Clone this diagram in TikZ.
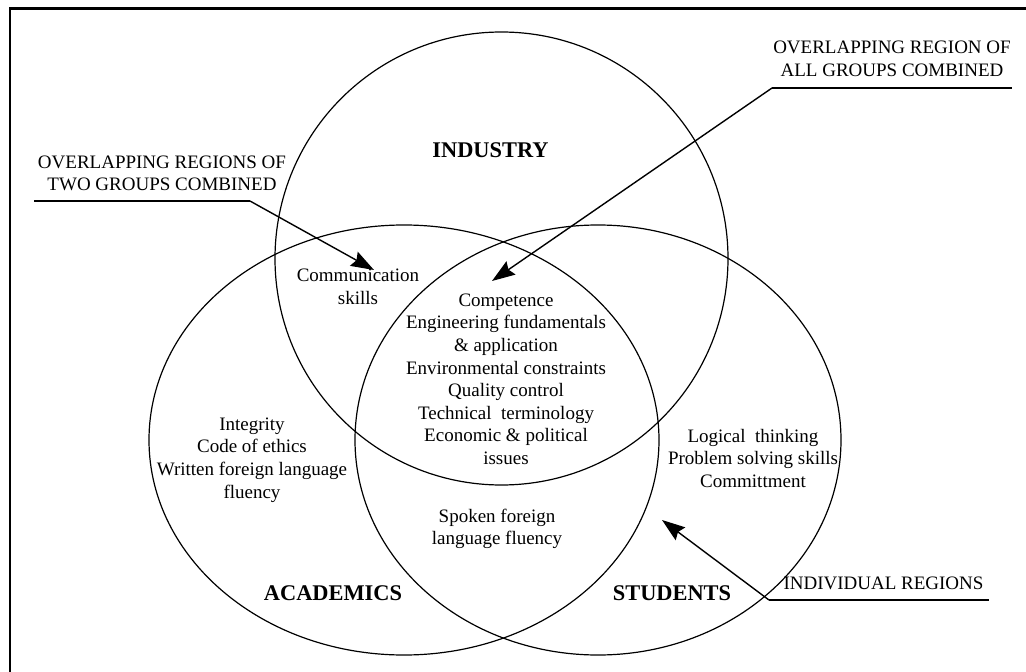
\documentclass[tikz,border=0pt]{standalone}
\usepackage{fontspec}
\setmainfont{Liberation Serif}
\usetikzlibrary{arrows.meta,positioning,shapes.geometric}

\begin{document}
\begin{tikzpicture}[x=1bp,y=-1bp]
\tikzstyle{ring}=[draw, line width=1.2bp, inner sep=0pt, outer sep=0pt]
\tikzstyle{plain}=[align=center, inner sep=0pt, font=\fontsize{19bp}{22.6bp}\selectfont]
\tikzstyle{group}=[inner sep=0pt, font=\fontsize{22.4bp}{26bp}\selectfont\bfseries]
\tikzstyle{pointer}=[line width=1.4bp, -{Stealth[length=23bp,width=16bp,inset=3bp]}]
\tikzstyle{underline}=[line width=2bp]
\useasboundingbox (0,0) rectangle (1026,672);
\clip (0,0) rectangle (1026,672);

% frame
\draw[line width=2.5bp] (1040,8.7) -- (10,8.7) -- (10,690);

% the three groups
\draw node at (501.5,258.5) [ring, circle, minimum size=453bp] (Ind) {};
\draw node at (404,440) [ring, ellipse, minimum width=510bp, minimum height=430bp] (Acad) {};
\draw node at (598,440) [ring, ellipse, minimum width=486bp, minimum height=430bp] (Stud) {};

\draw node at (490.5,150) [group] (IndName) {INDUSTRY};
\draw node at (333,593.5) [group] (AcadName) {ACADEMICS};
\draw node at (672,593.5) [group] (StudName) {STUDENTS};

% region contents
\draw node at (358,287) [plain] (Comm) {Communication\\skills};
\draw node at (506,293.5) [plain, anchor=north] (Core) {Competence\\Engineering fundamentals\\\& application\\Environmental constraints\\Quality control\\Technical\ \ terminology\\Economic \& political\\issues};
\draw node at (252,417.5) [plain, anchor=north] (AcadOnly) {Integrity\\Code of ethics\\Written foreign language\\fluency};
\draw node at (497,508.5) [plain, anchor=north] (Spoken) {Spoken foreign\\language fluency};
\draw node at (753,429) [plain, anchor=north] (StudOnly) {Logical\ \ thinking\\Problem solving skills\\Committment};

% callouts
\draw node at (162,173.5) [plain] (TwoLbl) {OVERLAPPING REGIONS OF\\TWO GROUPS COMBINED};
\coordinate (TwoL) at (34,201);
\coordinate (TwoR) at (250,201);
\coordinate (TwoTip) at (374,270);
\draw[underline] (TwoL) -- (TwoR);
\draw[pointer] (TwoR) -- (TwoTip);

\draw node at (892,59) [plain] (AllLbl) {OVERLAPPING REGION OF\\ALL GROUPS COMBINED};
\coordinate (AllL) at (772,88);
\coordinate (AllR) at (1012,88);
\coordinate (AllTip) at (492,281);
\draw[underline] (AllL) -- (AllR);
\draw[pointer] (AllL) -- (AllTip);

\draw node at (883.5,583.5) [plain] (IndivLbl) {INDIVIDUAL REGIONS};
\coordinate (IndivL) at (769,600);
\coordinate (IndivR) at (989,600);
\coordinate (IndivTip) at (662,520);
\draw[underline] (IndivL) -- (IndivR);
\draw[pointer] (IndivL) -- (IndivTip);
\end{tikzpicture}
\end{document}
